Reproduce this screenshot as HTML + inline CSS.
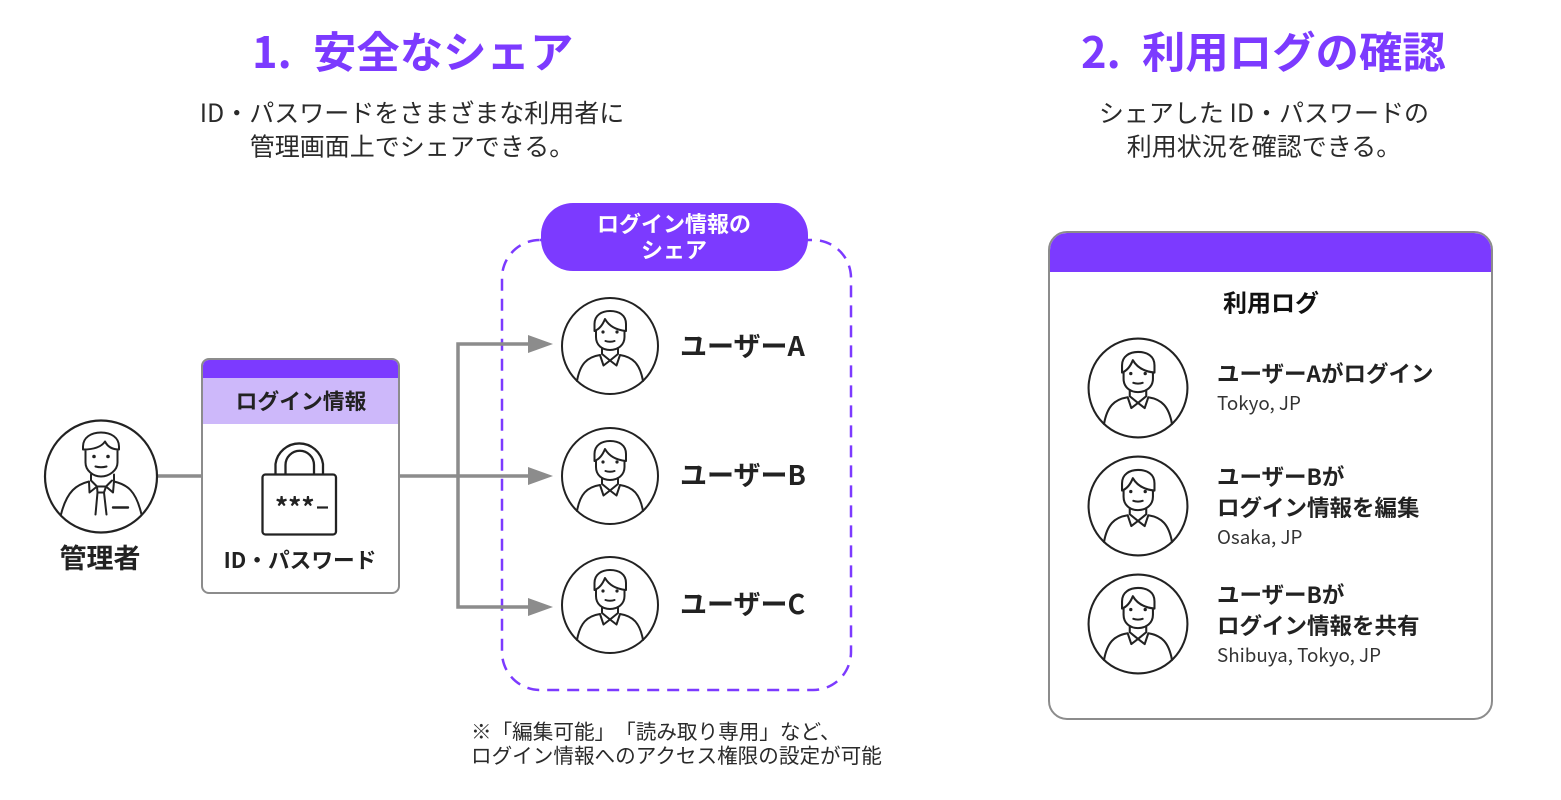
<!DOCTYPE html>
<html lang="ja"><head><meta charset="utf-8"><style>
html,body{margin:0;padding:0;background:#fff}
svg{display:block}
text{font-family:"Noto Sans CJK JP","Liberation Sans",sans-serif;fill:#222;text-spacing-trim:space-all}
.b{font-weight:700}
.t{font-weight:700;font-size:43.4px;fill:#7c3aff}
.d{font-size:25px;text-anchor:middle;fill:#2a2a2a}
.n{font-size:20.6px;fill:#2a2a2a}
.u{font-weight:700;font-size:27px;fill:#222}
.l{font-weight:700;font-size:22.5px;fill:#222}
.s{font-size:18.8px;fill:#333}
.p{fill:none;stroke:#222;stroke-width:2;stroke-linecap:round;stroke-linejoin:round}
</style></head><body>
<svg width="1561" height="800" viewBox="0 0 1561 800" xmlns="http://www.w3.org/2000/svg">
<defs>
<g id="person">
<circle r="48" fill="#fff" stroke="#222" stroke-width="2"/>
<path class="p" d="M-15.5 -15V-22C-15.5 -31 -8 -35 0 -35C9 -35 16 -31 16 -22V-15M-15.5 -15C-10 -17 -7 -22 -5 -27C-1 -20 6 -16 16 -15M-14 -15V-9C-14 -1 -8 4 0 4C8 4 14.5 -1 14.5 -9V-15"/>
<circle cx="-7" cy="-14" r="1.6" fill="#222"/><circle cx="7" cy="-14" r="1.6" fill="#222"/>
<path class="p" d="M-4.5 -5C-2 -4 2 -4 4.500 -5M-8 2V8L0 14.5M8 2V8L0 14.5M-10 9L-6.5 19.5L0 14.5L6.5 19.5L10 9M-10 9C-23 11 -30 18 -33 35M10 9C23 11 30 18 33 35"/>
</g>
</defs>

<text class="t" x="252" y="68">1.</text>
<text class="t" x="313" y="68">安全なシェア</text>
<text class="t" x="1081" y="68">2.</text>
<text class="t" x="1142" y="68">利用ログの確認</text>
<text class="d" x="412" y="122">ID・パスワードをさまざまな利用者に</text>
<text class="d" x="412" y="155.5">管理画面上でシェアできる。</text>
<text class="d" x="1264" y="122">シェアした ID・パスワードの</text>
<text class="d" x="1264" y="155.5">利用状況を確認できる。</text>

<!-- dashed group -->
<rect x="502" y="240" width="349" height="450" rx="38" fill="none" stroke="#7c3aff" stroke-width="2.5" stroke-dasharray="12 8"/>
<rect x="541" y="203" width="267" height="68" rx="32" fill="#7c3aff"/>
<text class="b" x="674" y="232" font-size="22" text-anchor="middle" style="fill:#fff">ログイン情報の</text>
<text class="b" x="674" y="258" font-size="22" text-anchor="middle" style="fill:#fff">シェア</text>

<!-- connectors -->
<g fill="none" stroke="#8c8c8c" stroke-width="3.5">
<path d="M158 476H202"/>
<path d="M399 476H530"/>
<path d="M530 344H458V607H530"/>
</g>
<g fill="#8c8c8c">
<path d="M528 335L553 344L528 353Z"/>
<path d="M528 467L553 476L528 485Z"/>
<path d="M528 598L553 607L528 616Z"/>
</g>

<!-- admin -->
<circle cx="101" cy="476.5" r="56" fill="#fff" stroke="#222" stroke-width="2.2"/>
<g transform="translate(101,476.5)">
<path class="p" d="M-18 -27V-30C-18 -39 -10 -44 0 -44C10 -44 18 -39 18 -30V-27M-18 -27C-8 -27 0 -29 4 -35C7 -29 12 -27 18 -27M-15.5 -27V-14C-15.5 -6 -8 0 0 0C8 0 16.5 -6 16.5 -14V-27"/>
<circle cx="-7" cy="-20" r="1.8" fill="#222"/><circle cx="7" cy="-20" r="1.8" fill="#222"/>
<path class="p" d="M-5.5 -10C-2 -9 2 -9 5.5 -10M-10 -2V4M13 -2V4M-12 5L-11.5 16L-4 10L5 10L12 16L13 5M-10 4L-4 10M11 4L5 10M-12 5C-24 8 -34 14 -40 38M13 5C26 8 35 14 40.5 38M-4 10L-3.5 16H3L5 10M-3.5 16L-5.5 38M3 16L5.5 38"/>
<path d="M12 31H27" fill="none" stroke="#222" stroke-width="2.4" stroke-linecap="round"/>
</g>
<text class="b" x="100" y="568" font-size="27" text-anchor="middle">管理者</text>

<!-- login info card -->
<rect x="202" y="359" width="197" height="234" rx="7" fill="#fff" stroke="#8c8c8c" stroke-width="2"/>
<path d="M203 378V366A6 6 0 0 1 209 360H392A6 6 0 0 1 398 366V378Z" fill="#7c3aff"/>
<rect x="203" y="378" width="195" height="46" fill="#cdb8fa"/>
<text class="b" x="301" y="409" font-size="21.8" text-anchor="middle">ログイン情報</text>
<rect x="262.5" y="474.5" width="73.5" height="60" rx="3" fill="#fff" stroke="#222" stroke-width="2.3"/>
<path class="p" style="stroke-width:2.3" d="M275.5 474V464A24 24 0 0 1 323 464V474M285.5 474V465A14.2 14.2 0 0 1 314 465V474"/>
<text class="b" x="275" y="517" font-size="26">***</text>
<path d="M317 507.5H328" stroke="#222" stroke-width="2.2"/>
<text class="b" x="300" y="568" font-size="21.7" text-anchor="middle">ID・パスワード</text>

<!-- users -->
<use href="#person" x="610" y="346"/>
<use href="#person" x="610" y="476"/>
<use href="#person" x="610" y="605"/>
<text class="u" x="680" y="356">ユーザーA</text>
<text class="u" x="680" y="485">ユーザーB</text>
<text class="u" x="680" y="614">ユーザーC</text>

<text class="n" x="471" y="739">※「編集可能」「読み取り専用」など、</text>
<text class="n" x="471" y="763">ログイン情報へのアクセス権限の設定が可能</text>

<!-- log panel -->
<rect x="1049" y="232" width="443" height="487" rx="18" fill="#fff" stroke="#8c8c8c" stroke-width="2"/>
<path d="M1050 272V250A17 17 0 0 1 1067 233H1474A17 17 0 0 1 1491 250V272Z" fill="#7c3aff"/>
<text class="b" x="1271" y="311.5" font-size="24" text-anchor="middle" style="fill:#111">利用ログ</text>

<use href="#person" transform="translate(1138,388) scale(1.03)"/>
<use href="#person" transform="translate(1138,506) scale(1.03)"/>
<use href="#person" transform="translate(1138,624) scale(1.03)"/>

<text class="l" x="1217" y="382">ユーザーAがログイン</text>
<text class="s" x="1217" y="410">Tokyo, JP</text>
<text class="l" x="1217" y="485">ユーザーBが</text>
<text class="l" x="1217" y="516">ログイン情報を編集</text>
<text class="s" x="1217" y="544">Osaka, JP</text>
<text class="l" x="1217" y="603">ユーザーBが</text>
<text class="l" x="1217" y="634">ログイン情報を共有</text>
<text class="s" x="1217" y="662">Shibuya, Tokyo, JP</text>
</svg>
</body></html>
